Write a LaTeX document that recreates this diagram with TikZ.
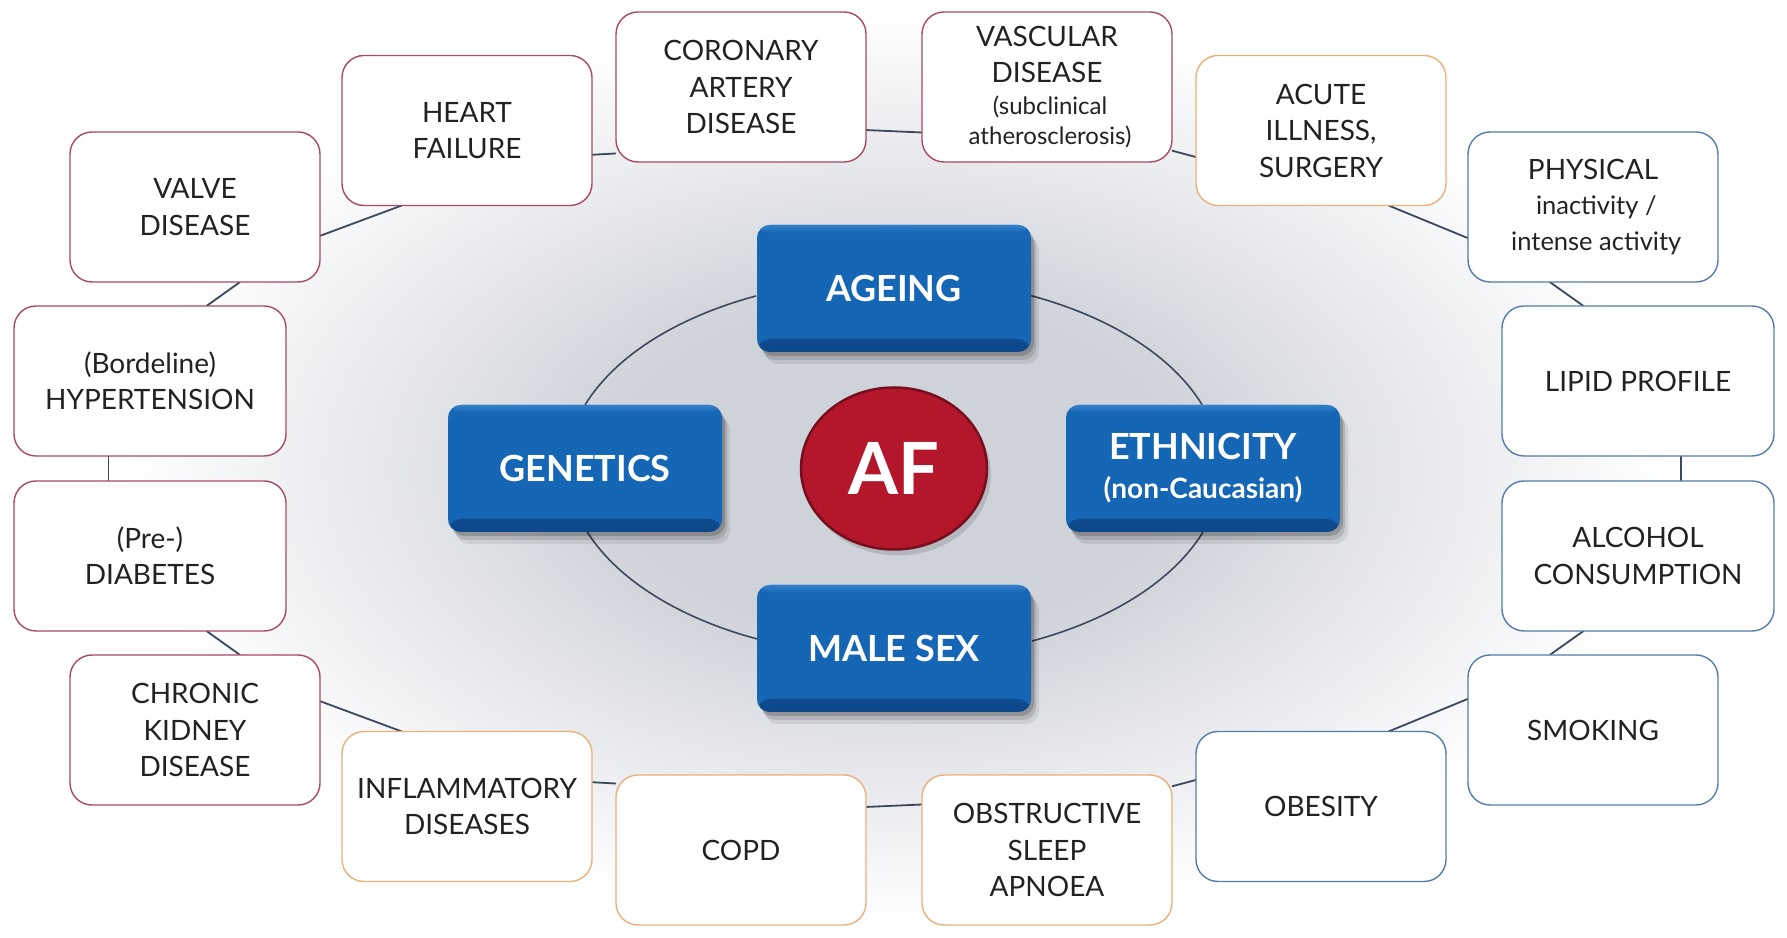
\documentclass[tikz,border=0pt]{standalone}
\usepackage{fontspec}
\setmainfont{Lato}
\usetikzlibrary{shapes.geometric,backgrounds}

\definecolor{txtC}{RGB}{34,34,34}
\definecolor{ringC}{RGB}{60,72,92}
\definecolor{cardioC}{RGB}{168,74,100}
\definecolor{acuteC}{RGB}{234,176,122}
\definecolor{lifeC}{RGB}{86,124,172}
\definecolor{afBlue}{RGB}{22,102,182}
\definecolor{afBlueDark}{RGB}{14,72,138}
\definecolor{afBlueLight}{RGB}{52,128,202}
\definecolor{afRed}{RGB}{180,22,44}
\definecolor{afRedDark}{RGB}{118,14,30}
\definecolor{haloC}{RGB}{206,210,217}

% soft grey halo behind the central cluster
\pgfdeclareradialshading{halo}{\pgfpoint{0bp}{0bp}}{color(0bp)=(haloC); color(9bp)=(haloC); color(25bp)=(white); color(50bp)=(white)}

\newcommand{\smalltxt}[1]{\fontsize{#1}{30}\selectfont}

\begin{document}
\begin{tikzpicture}[x=1pt,y=1pt,
  riskbox/.style={draw, line width=1.4pt, fill=white, rounded corners=22pt,
    minimum width=250pt, minimum height=150pt, inner sep=0pt, outer sep=0pt,
    align=center, text=txtC, font=\fontsize{28}{36.5}\selectfont},
  widebox/.style={minimum width=272pt},
  cardio/.style={riskbox, draw=cardioC},
  acute/.style={riskbox, draw=acuteC},
  life/.style={riskbox, draw=lifeC},
  core/.style={rounded corners=13pt, minimum width=274pt, minimum height=127pt,
    inner sep=0pt, outer sep=0pt, align=center, text=white, fill=afBlue,
    font=\bfseries\fontsize{36}{40}\selectfont,
    preaction={fill=black, opacity=0.08, transform canvas={xshift=8pt, yshift=-12pt}},
    preaction={fill=black, opacity=0.12, transform canvas={xshift=5pt, yshift=-8pt}},
    preaction={fill=black, opacity=0.18, transform canvas={xshift=3pt, yshift=-4pt}},
    path picture={
      \shade[top color=afBlue, bottom color=afBlueDark]
        ([yshift=13pt]path picture bounding box.south west) rectangle (path picture bounding box.south east);
      \shade[top color=afBlueLight, bottom color=afBlue]
        (path picture bounding box.north west) rectangle ([yshift=-8pt]path picture bounding box.north east);
    }},
  ring/.style={draw=ringC, line width=1.8pt}
]
\useasboundingbox (0,0) rectangle (1787,937);
\coordinate (hub) at (894,468.5);

% outer ring of risk factors
\node[cardio, widebox] (hyp)      at (150,556)  {(Bordeline)\\HYPERTENSION};
\node[cardio]          (valve)    at (195,730)  {VALVE\\DISEASE};
\node[cardio]          (heart)    at (467,806.5){HEART\\FAILURE};
\node[cardio]          (coronary) at (741,850)  {CORONARY\\ARTERY\\DISEASE};
\node[cardio]          (vascular) at (1047,850) {VASCULAR\\DISEASE\\[-5pt]{\smalltxt{24} (subclinical}\\[-6pt]{\smalltxt{24} atherosclerosis)}};
\node[acute]           (acuteill) at (1321,806.5){ACUTE\\ILLNESS,\\SURGERY};
\node[life]            (physical) at (1593,730) {PHYSICAL\\[-1pt]{\smalltxt{25.5} inactivity /}\\[-1pt]{\smalltxt{25.5} intense activity}};
\node[life, widebox]   (lipid)    at (1638,556) {LIPID PROFILE};
\node[life, widebox]   (alcohol)  at (1638,381) {ALCOHOL\\CONSUMPTION};
\node[life]            (smoking)  at (1593,207) {SMOKING};
\node[life]            (obesity)  at (1321,130.5){OBESITY};
\node[acute]           (osa)      at (1047,87)  {OBSTRUCTIVE\\SLEEP\\APNOEA};
\node[acute]           (copd)     at (741,87)   {COPD};
\node[acute]           (inflam)   at (467,130.5){INFLAMMATORY\\DISEASES};
\node[cardio]          (ckd)      at (195,207)  {CHRONIC\\KIDNEY\\DISEASE};
\node[cardio, widebox] (diab)     at (150,381)  {(Pre-)\\DIABETES};

% central cluster
\node[core] (ageing)    at (894,648.5) {AGEING};
\node[core] (genetics)  at (585,468.5) {GENETICS};
\node[core] (ethnicity) at (1203,468.5) {ETHNICITY\\[-1pt]{\fontsize{28}{32}\selectfont (non-Caucasian)}};
\node[core] (malesex)   at (894,288.5) {MALE SEX};
\node[ellipse, minimum width=186pt, minimum height=162pt, inner sep=0pt,
      fill=afRed, draw=afRedDark, line width=2.5pt, text=white,
      font=\bfseries\fontsize{72}{80}\selectfont,
      preaction={fill=black, opacity=0.12, transform canvas={xshift=4pt, yshift=-6pt}}]
      (af) at (hub) {AF};

\begin{scope}[on background layer]
  \fill[white] (0,0) rectangle (1787,937);
  \shade[shading=halo] (hub) ellipse [x radius=770, y radius=455];

  % links between neighbouring risk factors
  \draw[ring] (hyp.53.85)       -- (valve.-59.9);
  \draw[ring] (valve.-13.76)    -- (heart.-131.7);
  \draw[ring] (heart.-11.7)     -- (coronary.-152.4);
  \draw[ring] (coronary.-19.2)  -- (vascular.-160.8);
  \draw[ring] (vascular.-27.6)  -- (acuteill.-168.3);
  \draw[ring] (acuteill.-48.3)  -- (physical.-166.24);
  \draw[ring] (physical.-120.1) -- (lipid.126.15);
  \draw[ring] (lipid.-60.8)     -- (alcohol.60.8);
  \draw[ring] (alcohol.-126.15) -- (smoking.120.1);
  \draw[ring] (smoking.166.24)  -- (obesity.48.3);
  \draw[ring] (obesity.168.3)   -- (osa.27.6);
  \draw[ring] (osa.160.8)       -- (copd.19.2);
  \draw[ring] (copd.152.4)      -- (inflam.11.7);
  \draw[ring] (inflam.131.7)    -- (ckd.13.76);
  \draw[ring] (ckd.59.9)        -- (diab.-53.85);
  \draw[ring] (diab.119.2)      -- (hyp.-119.2);

  % inner loop through the four core factors
  \draw[ring, line width=1.6pt] (ageing.-3.1) arc[start angle=65.2, end angle=19.5, x radius=327, y radius=190];
  \draw[ring, line width=1.6pt] (ethnicity.south) arc[start angle=-19.5, end angle=-65.2, x radius=327, y radius=190];
  \draw[ring, line width=1.6pt] (malesex.176.9) arc[start angle=-114.8, end angle=-160.5, x radius=327, y radius=190];
  \draw[ring, line width=1.6pt] (genetics.north) arc[start angle=160.5, end angle=114.8, x radius=327, y radius=190];
\end{scope}
\end{tikzpicture}
\end{document}
